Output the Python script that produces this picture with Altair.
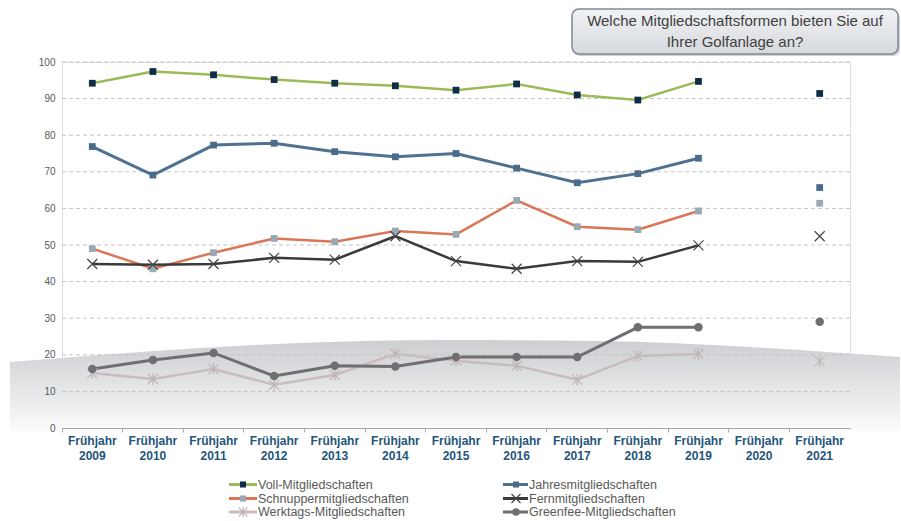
import altair as alt
import pandas as pd

# ---------------- data ----------------
years = ["2009", "2010", "2011", "2012", "2013", "2014", "2015",
         "2016", "2017", "2018", "2019", "2020", "2021"]

series_names = ["Voll-Mitgliedschaften", "Jahresmitgliedschaften",
                "Schnuppermitgliedschaften", "Fernmitgliedschaften",
                "Werktags-Mitgliedschaften", "Greenfee-Mitgliedschaften"]

voll = [94.2, 97.4, 96.5, 95.2, 94.2, 93.5, 92.3, 94.0, 91.0, 89.6, 94.7, None, 91.4]
jahres = [76.9, 69.1, 77.3, 77.8, 75.5, 74.1, 75.0, 71.0, 67.0, 69.5, 73.7, None, 65.7]
schnupper = [49.0, 43.5, 47.9, 51.8, 50.9, 53.8, 52.9, 62.2, 55.0, 54.2, 59.3, None, 61.4]
fern = [44.8, 44.6, 44.8, 46.5, 46.0, 52.4, 45.6, 43.5, 45.6, 45.4, 49.9, None, 52.4]
werktags = [15.0, 13.4, 16.1, 11.8, 14.5, 20.3, 18.4, 17.0, 13.2, 19.7, 20.2, None, 18.2]
greenfee = [16.1, 18.6, 20.5, 14.2, 17.0, 16.8, 19.4, 19.4, 19.4, 27.5, 27.5, None, 29.0]

series_values = [voll, jahres, schnupper, fern, werktags, greenfee]

y_ticks = [0, 10, 20, 30, 40, 50, 60, 70, 80, 90, 100]

title_lines = ["Welche Mitgliedschaftsformen  bieten Sie auf", "Ihrer  Golfanlage  an?"]

# ---------------- styles ----------------
X_PATH = "M-1,-1L1,1M-1,1L1,-1"
AST_PATH = "M-1,-1L1,1M-1,1L1,-1M0,-1.15L0,1.15"

styles = [
    dict(line="#9BBB59", marker="#0F2C48", shape="square", filled=True, size=46, lw=2.5),
    dict(line="#4E7190", marker="#4A6B89", shape="square", filled=True, size=46, lw=3),
    dict(line="#DA7656", marker="#97A9B5", shape="square", filled=True, size=46, lw=2.5),
    dict(line="#3A3A3A", marker="#454545", shape=X_PATH, filled=False, size=100, lw=2.5),
    dict(line="#C8BCBF", marker="#BFB3B6", shape=AST_PATH, filled=False, size=100, lw=2.5),
    dict(line="#6F6F73", marker="#6F6F73", shape="circle", filled=True, size=72, lw=3),
]

W, H = 788, 366
FONT = "Liberation Sans"

x_scale = alt.Scale(type="band", domain=years, paddingInner=0, paddingOuter=0)
y_scale = alt.Scale(domain=[0, 100], nice=False, zero=True)

x_axis = alt.Axis(title=None, bandPosition=0,
                  labelExpr="['Frühjahr', datum.label]", labelFontWeight="bold",
                  labelFontSize=12, labelColor="#24557A", labelLineHeight=15,
                  labelPadding=3, labelAngle=0, domainColor="#A6A6A6",
                  tickColor="#A6A6A6", tickSize=4, grid=False, zindex=1,
                  labelFont=FONT)
y_axis = alt.Axis(title=None, values=y_ticks, domain=False, ticks=False, grid=False,
                  labelColor="#595959", labelFontSize=10, labelPadding=7,
                  labelFont=FONT, zindex=1)

one = pd.DataFrame({"d": [0]})

# ---------------- decorative background swoosh (pixel frame) ----------------
swoosh = pd.DataFrame({
    "px": [-52, 38, 138, 238, 388, 538, 688, 838],
    "py": [300, 293, 286, 281, 278, 279, 285, 295],
    "pb": [370] * 8,
})
pix_x = alt.Scale(domain=[0, W], range=[0, W], nice=False, zero=False)
pix_y = alt.Scale(domain=[0, H], range=[0, H], nice=False, zero=False)
swoosh_layer = alt.Chart(swoosh).mark_area(
    interpolate="monotone",
    fill=alt.Gradient(gradient="linear", x1=0, x2=0, y1=0, y2=1,
                      stops=[alt.GradientStop(color="#CDCED1", offset=0),
                             alt.GradientStop(color="#E3E4E6", offset=0.5),
                             alt.GradientStop(color="#FCFCFC", offset=1)]),
).encode(
    x=alt.X("px:Q", scale=pix_x, axis=None),
    y=alt.Y("py:Q", scale=pix_y, axis=None),
    y2="pb:Q",
)

# ---------------- gridlines ----------------
grid_layer = alt.Chart(pd.DataFrame({"v": y_ticks[1:]})).mark_rule(
    color="#C4C4C4", strokeDash=[4, 3], strokeWidth=1
).encode(
    y=alt.Y("v:Q", scale=y_scale, axis=y_axis),
    x=alt.value(0), x2=alt.value(W),
)

# ---------------- series ----------------
line_layers, point_layers = [], []
for name, vals, st in zip(series_names, series_values, styles):
    df_line = pd.DataFrame({"year": years[:11], "value": vals[:11]})
    df_pts = pd.DataFrame({"year": years, "value": vals}).dropna()
    enc = dict(x=alt.X("year:O", scale=x_scale, axis=x_axis),
               y=alt.Y("value:Q", scale=y_scale, axis=y_axis))
    line_layers.append(
        alt.Chart(df_line).mark_line(color=st["line"], strokeWidth=st["lw"]).encode(**enc)
    )
    if st["filled"]:
        pm = alt.Chart(df_pts).mark_point(shape=st["shape"], filled=True, opacity=1,
                                          fill=st["marker"], size=st["size"])
    else:
        pm = alt.Chart(df_pts).mark_point(shape=st["shape"], filled=False, opacity=1,
                                          stroke=st["marker"], strokeWidth=1.2,
                                          size=st["size"])
    point_layers.append(pm.encode(**enc))

# ---------------- custom legend ----------------
legend_layers = []
col_geo = [dict(x1=167, x2=195, mx=181, tx=196), dict(x1=441, x2=466, mx=454, tx=467)]
row_y = [422.5, 436.5, 450]
for i, (name, st) in enumerate(zip(series_names, styles)):
    g = col_geo[i % 2]
    yy = row_y[i // 2]
    legend_layers.append(
        alt.Chart(one).mark_rule(color=st["line"], strokeWidth=3).encode(
            x=alt.value(g["x1"]), x2=alt.value(g["x2"]), y=alt.value(yy))
    )
    if st["filled"]:
        lm = alt.Chart(one).mark_point(shape=st["shape"], filled=True, opacity=1,
                                       fill=st["marker"], size=st["size"] * 0.8)
    else:
        lm = alt.Chart(one).mark_point(shape=st["shape"], filled=False, opacity=1,
                                       stroke=st["marker"], strokeWidth=1.2,
                                       size=st["size"] * 0.8)
    legend_layers.append(lm.encode(x=alt.value(g["mx"]), y=alt.value(yy)))
    legend_layers.append(
        alt.Chart(one).mark_text(align="left", baseline="middle", fontSize=12.5,
                                 color="#595959", font=FONT).encode(
            x=alt.value(g["tx"]), y=alt.value(yy), text=alt.value(name))
    )

# ---------------- question box ----------------
box_x1, box_x2, box_y1, box_y2 = 510, 836, -53, -8
box_shadow = alt.Chart(one).mark_rect(cornerRadius=7, color="#9AA3AD", opacity=0.5).encode(
    x=alt.value(box_x1 + 1), x2=alt.value(box_x2 + 2),
    y=alt.value(box_y1 + 2), y2=alt.value(box_y2 + 2))
box = alt.Chart(one).mark_rect(
    cornerRadius=7, stroke="#7D8995", strokeWidth=1.5,
    fill=alt.Gradient(gradient="linear", x1=0, x2=0, y1=0, y2=1,
                      stops=[alt.GradientStop(color="#F1F2F4", offset=0),
                             alt.GradientStop(color="#D6D9DD", offset=1)]),
).encode(x=alt.value(box_x1), x2=alt.value(box_x2),
         y=alt.value(box_y1), y2=alt.value(box_y2))
box_texts = [
    alt.Chart(one).mark_text(align="center", baseline="middle", fontSize=15,
                             color="#404040", font=FONT).encode(
        x=alt.value((box_x1 + box_x2) / 2), y=alt.value(yy), text=alt.value(t))
    for t, yy in zip(title_lines, [-41, -20])
]

main = alt.layer(
    grid_layer, *line_layers, *point_layers, *legend_layers,
    box_shadow, box, *box_texts
)

chart = alt.layer(swoosh_layer, main).resolve_scale(
    x="independent", y="independent"
).properties(
    width=W, height=H,
    autosize=alt.AutoSizeParams(type="none"),
    padding={"left": 62, "top": 62, "right": 51, "bottom": 93},
).configure_view(stroke=None).configure(font=FONT)

chart.save("out.html", embed_options={"renderer": "svg", "actions": False})
